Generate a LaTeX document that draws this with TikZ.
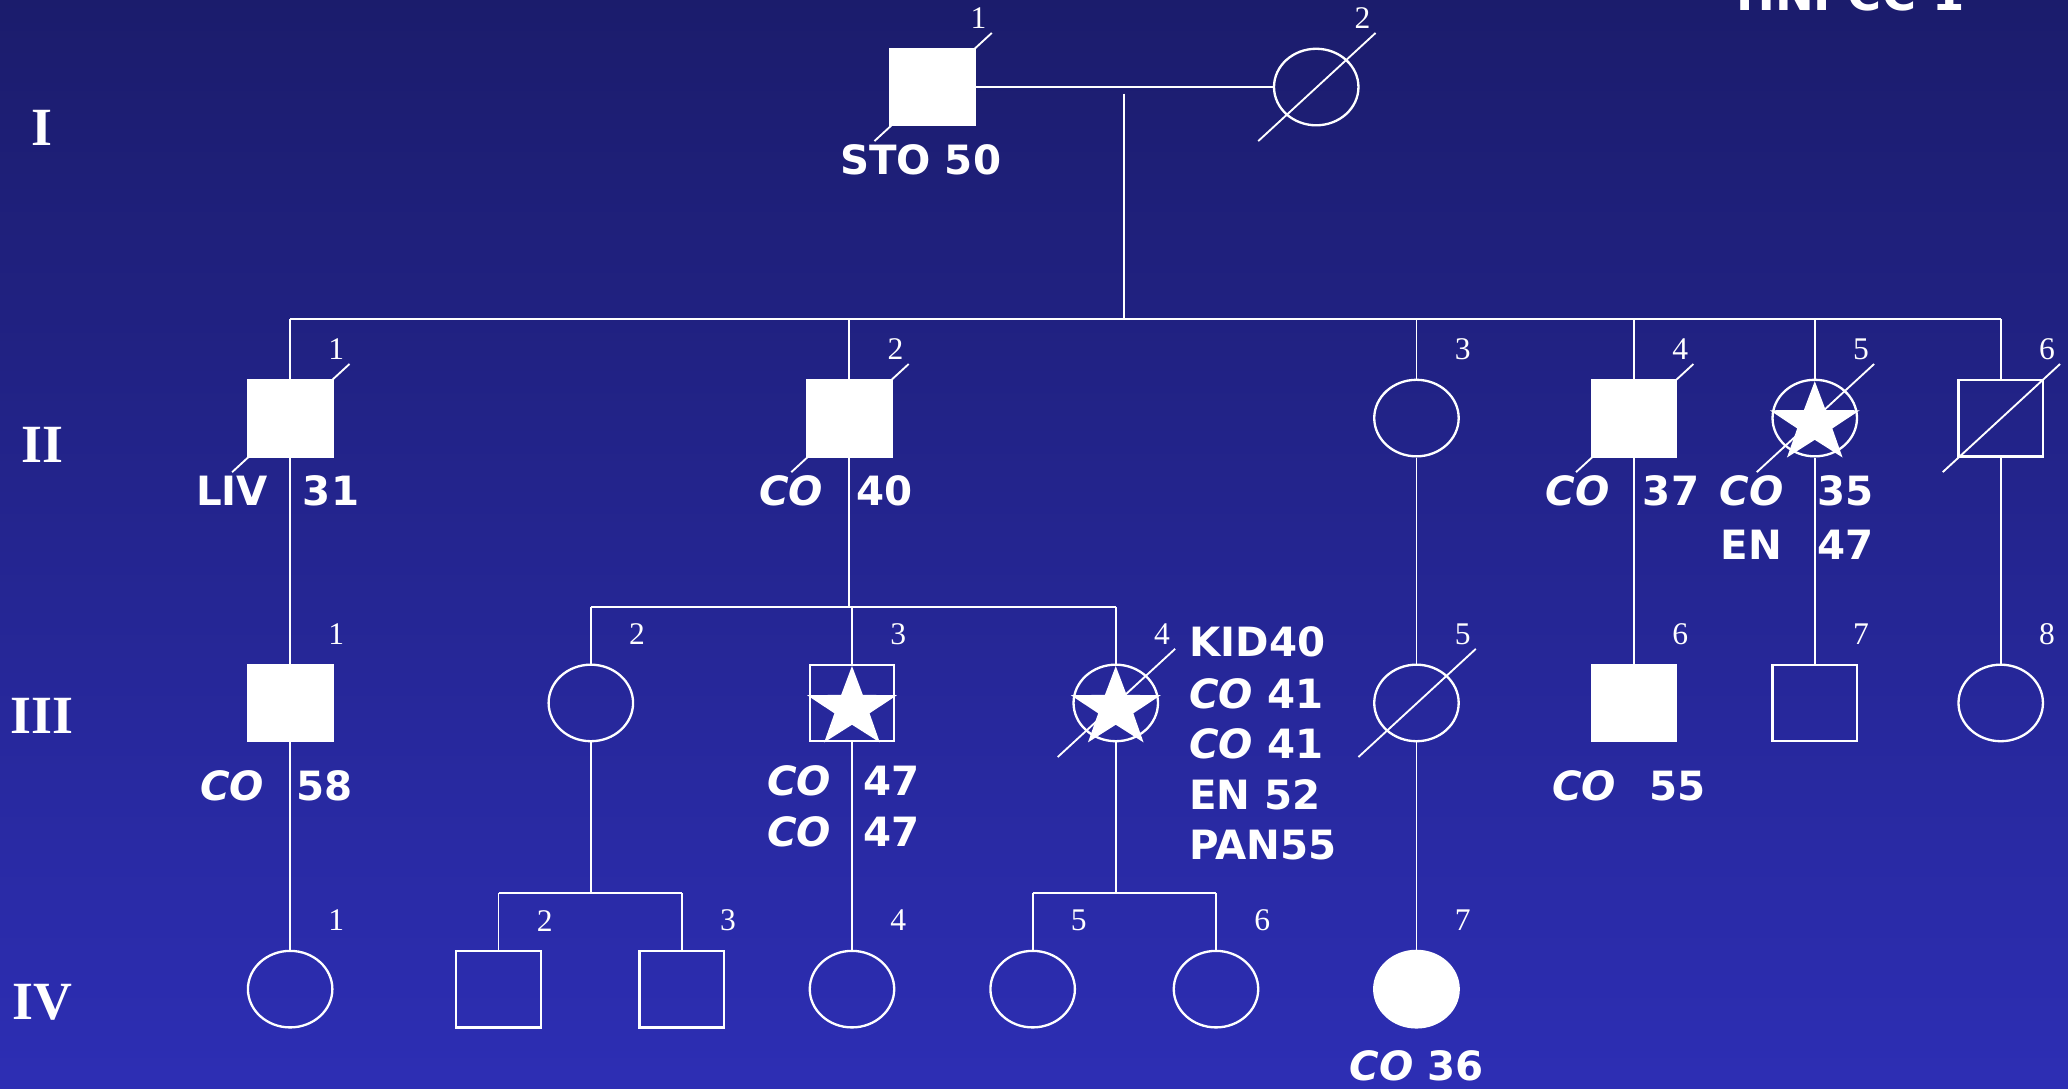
\documentclass[tikz,border=0pt]{standalone}
\usepackage{fontspec}
\setmainfont{Liberation Serif}
\newfontfamily\pedfont{DejaVu Sans}
\usetikzlibrary{shapes.geometric}
\definecolor{bgtop}{RGB}{27,28,108}
\definecolor{bgbot}{RGB}{45,46,180}
\newcommand{\itco}{\textit{CO}}

\tikzset{
  pedstar/.pic={
    \fill[white, x=1.12cm, y=1cm, yshift=-0.04cm] (90:0.32)
      \foreach \a/\rad in {126/0.125, 162/0.32, 198/0.125, 234/0.32, 270/0.125,
                           306/0.32, 342/0.125, 18/0.32, 54/0.125} { -- (\a:\rad) } -- cycle;
  }
}

\begin{document}
\begin{tikzpicture}[x=0.01cm, y=-0.01cm,
  ln/.style={draw=white, line width=0.4pt},
  male/.style={rectangle, draw=white, line width=0.5pt, minimum width=0.64cm, minimum height=0.58cm, inner sep=0pt},
  female/.style={ellipse, draw=white, line width=0.5pt, minimum width=0.64cm, minimum height=0.58cm, inner sep=0pt},
  maleA/.style={male, fill=white},
  femaleA/.style={female, fill=white},
  num/.style={text=white, font=\fontsize{6.8}{8}\selectfont, inner sep=0pt},
  gen/.style={text=white, font=\bfseries\fontsize{11.6}{13}\selectfont, inner sep=0pt},
  lab/.style={text=white, font=\pedfont\bfseries\fontsize{8.7}{10}\selectfont, inner sep=0pt}]

\useasboundingbox (0,0) rectangle (1568,825);
\shade[top color=bgtop, bottom color=bgbot] (0,0) rectangle (1568,825);

% title, cut by the top edge
\node[lab, anchor=base, font=\pedfont\bfseries\fontsize{10}{12}\selectfont] (title) at (1403,8) {HNPCC 1};

% generations
\foreach \g/\y in {I/97, II/337, III/543, IV/760}
  \node[gen] (g\g) at (32,\y) {\g};

% deceased (drawn under the symbols)
\foreach \x/\y in {707/66, 998/66, 220/317, 644/317, 1239/317, 1376/317, 1517/317, 846/533, 1074/533}
  \draw[ln] (\x-44,\y+41) -- (\x+45,\y-41);

% persons
\foreach \p/\x/\y/\s/\k in {
  I1/707/66/maleA/1, I2/998/66/female/2,
  II1/220/317/maleA/1, II2/644/317/maleA/2, II3/1074/317/female/3,
  II4/1239/317/maleA/4, II5/1376/317/female/5, II6/1517/317/male/6,
  III1/220/533/maleA/1, III2/448/533/female/2, III3/646/533/male/3, III4/846/533/female/4,
  III5/1074/533/female/5, III6/1239/533/maleA/6, III7/1376/533/male/7, III8/1517/533/female/8,
  IV1/220/750/female/1, IV2/378/750/male/2, IV3/517/750/male/3, IV4/646/750/female/4,
  IV5/783/750/female/5, IV6/922/750/female/6, IV7/1074/750/femaleA/7} {
  \node[\s] (\p) at (\x,\y) {};
  \node[num] (k\p) at (\x+35,\y-52) {\k};
}

% stars
\foreach \p in {II5, III3, III4}
  \pic at (\p) {pedstar};

% generation I -> II
\coordinate (mI) at (852,71);
\coordinate (sII) at (852,242);
\draw[ln] (I1) -- (I2);
\draw[ln] (mI) -- (sII);
\draw[ln] (sII -| II1) -- (sII -| II6);
\foreach \c in {II1, II2, II3, II4, II5, II6}
  \draw[ln] (sII -| \c) -- (\c);

% generation II -> III
\foreach \a/\b in {II1/III1, II3/III5, II4/III6, II5/III7, II6/III8}
  \draw[ln] (\a) -- (\b);
\coordinate (sIII) at (644,460);
\draw[ln] (II2) -- (sIII);
\draw[ln] (sIII -| III2) -- (sIII -| III4);
\foreach \c in {III2, III3, III4}
  \draw[ln] (sIII -| \c) -- (\c);

% generation III -> IV
\foreach \a/\b in {III1/IV1, III3/IV4, III5/IV7}
  \draw[ln] (\a) -- (\b);
\coordinate (sIVa) at (448,677);
\coordinate (sIVb) at (846,677);
\draw[ln] (III2) -- (sIVa);
\draw[ln] (III4) -- (sIVb);
\draw[ln] (sIVa -| IV2) -- (sIVa -| IV3);
\draw[ln] (sIVb -| IV5) -- (sIVb -| IV6);
\foreach \c/\s in {IV2/sIVa, IV3/sIVa, IV5/sIVb, IV6/sIVb}
  \draw[ln] (\s -| \c) -- (\c);

% cancers and ages
\foreach \i/\x/\y/\t in {
  1/698/132/STO 50,
  2/176/383/LIV, 3/251/383/31,
  4/600/383/\itco, 5/671/383/40,
  6/1196/383/\itco, 7/1267/383/37,
  8/1328/383/\itco, 9/1399/383/35, 10/1328/424/EN, 11/1399/424/47,
  12/176/607/\itco, 13/246/607/58,
  14/606/603/\itco, 15/676/603/47, 16/606/642/\itco, 17/676/642/47,
  18/1201/607/\itco, 19/1272/607/55,
  20/1074/819/\itco{} 36}
  \node[lab, anchor=base] (t\i) at (\x,\y) {\t};

\foreach \i/\y/\t in {1/498/KID40, 2/537/\itco{} 41, 3/575/\itco{} 41, 4/614/EN 52, 5/652/PAN55}
  \node[lab, anchor=base west] (kid\i) at (901,\y) {\t};

\end{tikzpicture}
\end{document}
